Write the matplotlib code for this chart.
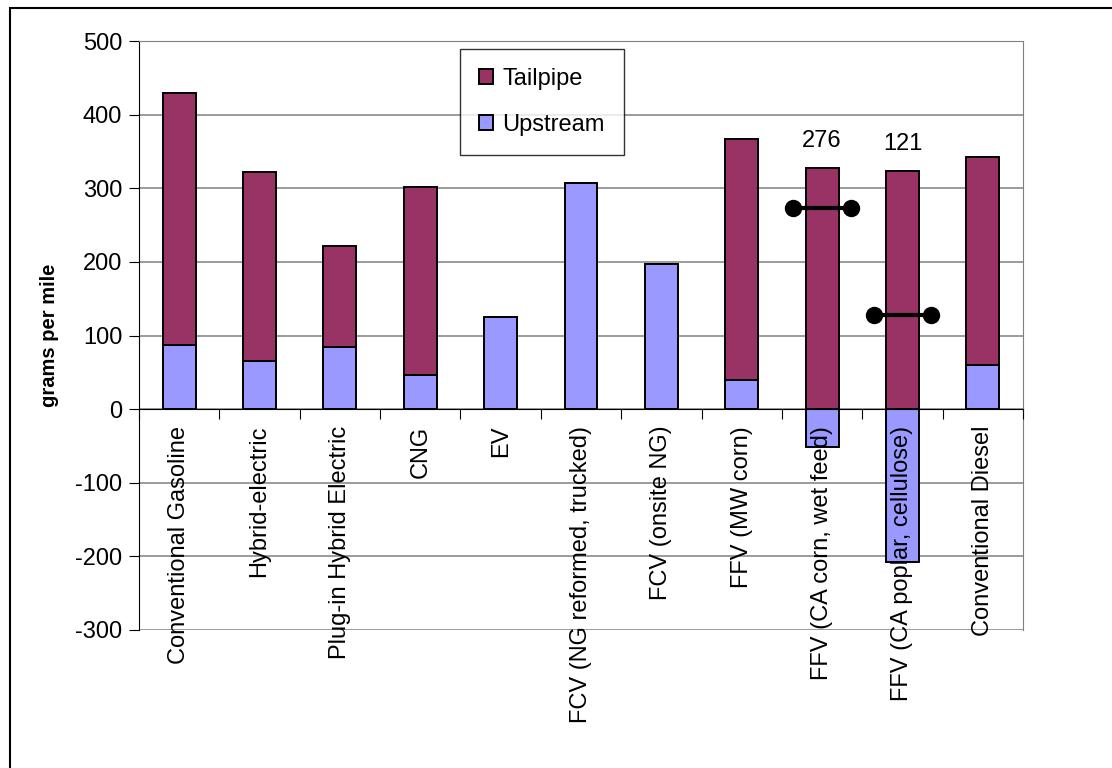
import numpy as np
import matplotlib.pyplot as plt
from matplotlib.patches import Rectangle

plt.rcParams['font.family'] = ['Liberation Sans', 'DejaVu Sans']
plt.rcParams['axes.unicode_minus'] = False

# 차량별 값
vehicles = ["Conventional Gasoline", "Hybrid-electric", "Plug-in Hybrid Electric", "CNG", "EV",
            "FCV (NG reformed, trucked)", "FCV (onsite NG)", "FFV (MW corn)",
            "FFV (CA corn, wet feed)", "FFV (CA poplar, cellulose)", "Conventional Diesel"]
upstream = [87, 65, 85, 47, 125, 307, 197, 40, -52, -208, 60]
tailpipe = [342, 257, 137, 255, 0, 0, 0, 327, 327, 323, 282]

# 순배출 표시 (막대 위 숫자)
net_idx = [8, 9]
net_labels = ["276", "121"]
net_values = [273, 128]

y_ticks = [-300, -200, -100, 0, 100, 200, 300, 400, 500]

fig = plt.figure(figsize=(11.12, 7.68), dpi=100)
ax = fig.add_axes([0.125, 0.1797, 0.795, 0.7669])

x = np.arange(len(vehicles))
up = np.array(upstream)
tp = np.array(tailpipe)
w = 0.41

# 그리드는 막대 뒤에 직접 그린다
for t in y_ticks:
    ax.axhline(t, color="#808080", lw=1.1, zorder=0)

ax.bar(x, up, w, color="#9999FF", edgecolor="black", linewidth=1.4, label="Upstream", zorder=2)
ax.bar(x, tp, w, bottom=np.maximum(up, 0), color="#993366", edgecolor="black",
       linewidth=1.4, label="Tailpipe", zorder=2)

for i, lab, v in zip(net_idx, net_labels, net_values):
    ax.plot([i - 0.36, i + 0.36], [v, v], color="black", lw=3, marker="o", ms=11.5, zorder=5)
    top = max(up[i], 0) + tp[i]
    ax.annotate(lab, (i, top), xytext=(0, 12), textcoords="offset points",
                ha="center", va="bottom", fontsize=17)

ax.set_xlim(-0.5, len(vehicles) - 0.5)
ax.set_ylim(-300, 500)
ax.set_yticks(y_ticks)
ax.tick_params(axis="y", labelsize=17, length=7, direction="out", pad=5)
ax.set_ylabel("grams per mile", fontsize=14.5, fontweight="bold", labelpad=12)

# x축은 0 위치에, 눈금은 카테고리 사이에
ax.spines["bottom"].set_position(("data", 0))
ax.spines["bottom"].set_zorder(4)
ax.xaxis.set_zorder(4)
ax.set_xticks(np.arange(len(vehicles) + 1) - 0.5)
ax.set_xticklabels([])
ax.set_xticks(x, minor=True)
ax.set_xticklabels(vehicles, minor=True, rotation=90, ha="center", va="top", fontsize=17)
ax.tick_params(axis="x", which="major", length=7, direction="out")
ax.tick_params(axis="x", which="minor", length=0, pad=12)

for s in ["top", "right"]:
    ax.spines[s].set_color("#808080")
ax.spines["left"].set_color("black")

h, l = ax.get_legend_handles_labels()
leg = ax.legend(h[::-1], l[::-1], loc="upper left", bbox_to_anchor=(0.363, 0.986),
                borderaxespad=0, fontsize=17, frameon=True, fancybox=False, edgecolor="black",
                handlelength=0.6, handleheight=0.6, labelspacing=1.0, borderpad=0.8,
                handletextpad=0.4)
leg.get_frame().set_linewidth(1.0)
leg.set_zorder(6)

# 바깥 테두리
fig.patches.append(Rectangle((10 / 1112, -0.2), 1.5, 1.2 - 8 / 768, transform=fig.transFigure,
                             fill=False, edgecolor="black", lw=1.5))

fig.savefig("out.png", dpi=100)
